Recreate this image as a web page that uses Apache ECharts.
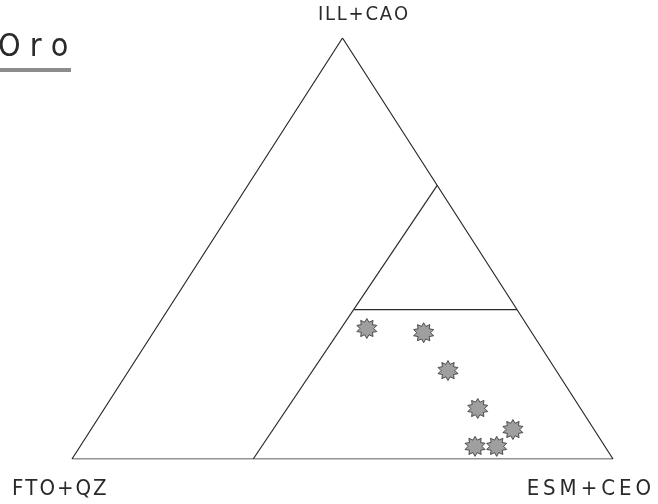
<!DOCTYPE html>
<html><head><meta charset="utf-8">
<script src="https://cdn.jsdelivr.net/npm/echarts@6/dist/echarts.min.js"></script>
<style>html,body{margin:0;padding:0;background:#fff}#c{width:658px;height:504px}</style>
</head><body><div id="c"></div>
<script>
// Ternary diagram: components [ESM+CEO, ILL+CAO]; FTO+QZ = 1 - ESM - ILL
const title = 'Oro';
const vertexTop = 'ILL+CAO';
const vertexLeft = 'FTO+QZ';
const vertexRight = 'ESM+CEO';
const sampleESM = [0.39, 0.50, 0.59, 0.69, 0.78, 0.73, 0.77];
const sampleILL = [0.31, 0.30, 0.21, 0.12, 0.07, 0.03, 0.03];
const outlineESM = [0, 1, 0, 0];
const outlineILL = [0, 0, 1, 0];
const divider1ESM = [0.335, 0.35];
const divider1ILL = [0, 0.65];
const divider2ESM = [0.344, 0.645];
const divider2ILL = [0.355, 0.355];

function toXY(esm, ill) { return esm.map((e, i) => [e + ill[i] / 2, ill[i]]); }
function spaced(s, sep) { return s.split('').join(sep); }

// 10-point spiky star
function starPath() {
  const n = 10, pts = [];
  for (let i = 0; i < n * 2; i++) {
    const r = i % 2 === 0 ? 50 : 33;
    const a = Math.PI * i / n - Math.PI / 2;
    pts.push((50 + r * Math.cos(a)).toFixed(1) + ',' + (50 + r * Math.sin(a)).toFixed(1));
  }
  return 'path://M' + pts.join('L') + 'Z';
}

const FONT = '"DejaVu Sans Condensed", "DejaVu Sans"';
const lineStyle = { color: '#2a2a2a', width: 1.2 };
const chart = echarts.init(document.getElementById('c'), null, { renderer: 'canvas' });
chart.setOption({
  backgroundColor: '#ffffff',
  animation: false,
  grid: { left: 72, right: 45, top: 38, bottom: 45 },
  xAxis: { type: 'value', min: 0, max: 1, show: false },
  yAxis: { type: 'value', min: 0, max: 1, show: false },
  series: [
    { type: 'line', data: toXY(outlineESM, outlineILL), symbol: 'none', lineStyle: lineStyle },
    { type: 'line', data: toXY(divider1ESM, divider1ILL), symbol: 'none', lineStyle: lineStyle },
    { type: 'line', data: toXY(divider2ESM, divider2ILL), symbol: 'none', lineStyle: lineStyle },
    { type: 'scatter', data: toXY(sampleESM, sampleILL), symbol: starPath(), symbolSize: 20,
      itemStyle: { color: '#878787', borderColor: '#1e1e1e', borderWidth: 0.9 } }
  ],
  graphic: [
    { type: 'text', left: -2, top: 32, style: { text: spaced(title, ' '), font: '32px ' + FONT, fill: '#2a2a2a' } },
    { type: 'rect', shape: { x: 0, y: 68, width: 71, height: 4 }, style: { fill: '#8c8c8c' } },
    { type: 'text', x: 363, y: 15, style: { text: spaced(vertexTop, '\u200A'), font: '20px ' + FONT, fill: '#2a2a2a', textAlign: 'center', textVerticalAlign: 'middle' } },
    { type: 'text', x: 12, y: 489, style: { text: spaced(vertexLeft, '\u200A'), font: '22px ' + FONT, fill: '#2a2a2a', textAlign: 'left', textVerticalAlign: 'middle' } },
    { type: 'text', x: 651, y: 489, style: { text: spaced(vertexRight, '\u2009'), font: '22px ' + FONT, fill: '#2a2a2a', textAlign: 'right', textVerticalAlign: 'middle' } }
  ]
});
</script></body></html>
